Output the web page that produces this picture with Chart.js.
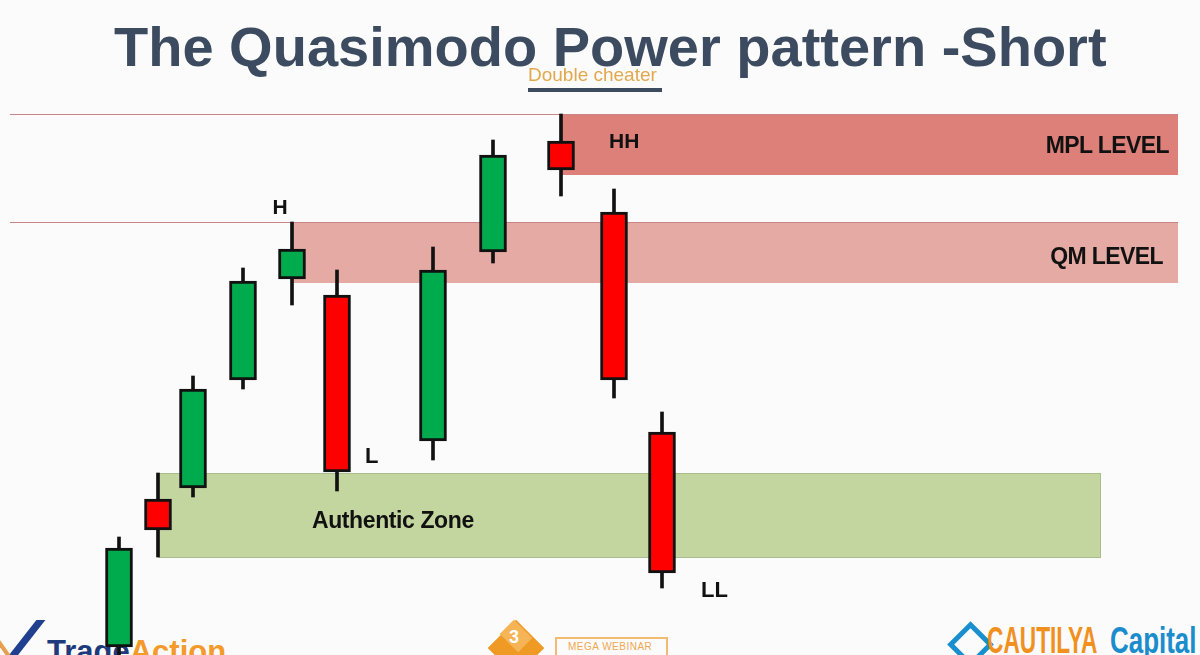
<!DOCTYPE html>
<html><head><meta charset="utf-8">
<script src="https://cdn.jsdelivr.net/npm/chart.js@4.4.0/dist/chart.umd.min.js"></script>
<style>
html,body{margin:0;padding:0;background:#fbfbfb;}
#wrap{position:relative;width:1200px;height:655px;overflow:hidden;font-family:"Liberation Sans",Arial,Helvetica,sans-serif;background:#fbfbfb;}
#c{position:absolute;left:0;top:0;z-index:2;}
.t{position:absolute;white-space:nowrap;line-height:1;}
.logo{z-index:1;}
.ann{z-index:3;font-weight:bold;color:#111;}
</style></head><body>
<div id="wrap">
  <div class="t" style="left:114px;top:19px;font-size:56px;font-weight:bold;color:#3d4b60;z-index:3;">The Quasimodo Power pattern -Short</div>
  <div class="t" style="left:528px;top:64.5px;font-size:19px;color:#e2a84c;z-index:3;">Double cheater</div>
  <div style="position:absolute;left:528px;top:88px;width:134px;height:4px;background:#3d4b60;z-index:3;"></div>

  <!-- bottom-left logo -->
  <div class="logo" style="position:absolute;left:20px;top:620px;width:9px;height:42px;background:#213f8f;transform:skewX(-38deg);"></div>
  <div class="logo" style="position:absolute;left:2px;top:640px;width:5px;height:20px;background:#e8a050;transform:skewX(35deg);"></div>
  <div class="t logo" style="left:47px;top:635.8px;font-size:31px;font-weight:bold;"><span style="color:#1d3a7c">Trade</span><span style="color:#f39a2b">Action</span></div>

  <!-- middle logo -->
  <div class="logo" style="position:absolute;left:496px;top:628px;width:40px;height:40px;background:#ef9a25;transform:rotate(45deg);"></div>
  <div class="logo" style="position:absolute;left:503px;top:626px;width:26px;height:20px;background:#f5b455;transform:rotate(45deg) skew(0deg);"></div>
  <div class="t logo" style="left:509px;top:628px;font-size:18px;font-weight:bold;color:#fff;">3</div>
  <div class="logo" style="position:absolute;left:555px;top:637px;width:113px;height:22px;border:2px solid #f2bb70;box-sizing:border-box;"></div>
  <div class="t logo" style="left:568px;top:642px;font-size:10px;color:#f0a850;letter-spacing:0.5px;">MEGA WEBINAR</div>

  <!-- bottom-right logo -->
  <div class="logo" style="position:absolute;left:954px;top:628px;width:23px;height:23px;border:5px solid #1a8fd0;transform:rotate(45deg);"></div>
  <div class="t logo" style="left:987px;top:623px;font-size:36px;font-weight:bold;color:#f0901e;transform:scaleX(0.63);transform-origin:left;">CAUTILYA</div>
  <div class="t logo" style="left:1110px;top:623px;font-size:36px;font-weight:bold;color:#1b8ccc;transform:scaleX(0.72);transform-origin:left;">Capital</div>

  <canvas id="c" width="1200" height="655"></canvas>
</div>
<script>
// ---------- data ----------
const times  = [11.9, 15.8, 19.3, 24.3, 29.2, 33.7, 43.3, 49.3, 56.1, 61.4, 66.2];
const opens  = [0.8, 15.6, 16.7, 27.5, 37.6, 36.0, 21.4, 40.3, 51.4, 44.3, 22.3];
const highs  = [11.8, 18.2, 27.9, 38.7, 43.3, 38.5, 40.8, 51.5, 54.1, 46.6, 24.3];
const lows   = [-1.0, 9.8, 15.8, 26.6, 35.0, 16.4, 19.5, 39.2, 45.9, 25.7, 6.7];
const closes = [10.7, 12.5, 26.6, 37.4, 40.6, 18.3, 38.5, 50.0, 48.5, 27.5, 8.2];

const zoneNames  = ['MPL LEVEL', 'QM LEVEL', 'Authentic Zone'];
const zoneStart  = [56.1, 29.2, 15.8];
const zoneEnd    = [117.8, 117.8, 110.0];
const zoneTop    = [54.1, 43.3, 18.2];
const zoneBottom = [48.0, 37.2, 9.8];
const levelLineFrom = [1.0, 1.0, null];

const annText = ['H', 'L', 'HH', 'LL', 'MPL LEVEL', 'QM LEVEL', 'Authentic Zone'];
const annTime = [28.0, 36.5, 60.9, 70.1, 116.9, 116.3, 31.2];
const annPrice = [44.1, 19.1, 50.7, 5.7, 50.2, 39.1, 12.7];

// ---------- styles ----------
const UP = '#00ab4e', DOWN = '#ff0000', EDGE = '#111111';
const zoneFill = ['#dc8079', '#e6aaa4', '#c4d6a0'];
const zoneEdge = ['#c98585', '#c98585', '#a9bd8c'];
const annAlign = ['center', 'left', 'left', 'left', 'right', 'right', 'left'];
const annSize = [21, 22, 21, 22, 23, 23, 23];
const annSpacing = [0, 0, 0, 0, -0.6, -0.6, -0.4];

const bodies = times.map((t, i) => ({x: t, y: [opens[i], closes[i]]}));
const wicks = times.map((t, i) => ({x: t, y: [lows[i], highs[i]]}));
const bodyColors = times.map((t, i) => closes[i] >= opens[i] ? UP : DOWN);

const zonePlugin = {
  id: 'zones',
  beforeDatasetsDraw(chart) {
    const {ctx, scales: {x, y}} = chart;
    ctx.save();
    zoneNames.forEach((n, i) => {
      const x0 = x.getPixelForValue(zoneStart[i]);
      const x1 = x.getPixelForValue(zoneEnd[i]);
      const y0 = y.getPixelForValue(zoneTop[i]);
      const y1 = y.getPixelForValue(zoneBottom[i]);
      ctx.fillStyle = zoneFill[i];
      ctx.fillRect(x0, y0, x1 - x0, y1 - y0);
      ctx.strokeStyle = zoneEdge[i];
      ctx.lineWidth = 1;
      if (i === 2) {
        ctx.strokeRect(Math.round(x0) + 0.5, Math.round(y0) + 0.5, x1 - x0, y1 - y0);
      }
      if (levelLineFrom[i] !== null) {
        const xl = x.getPixelForValue(levelLineFrom[i]);
        ctx.beginPath();
        ctx.moveTo(xl, Math.round(y0) + 0.5);
        ctx.lineTo(x1, Math.round(y0) + 0.5);
        ctx.stroke();
      }
    });
    ctx.restore();
  }
};

const chart = new Chart(document.getElementById('c'), {
  type: 'bar',
  data: {
    datasets: [
      {label: 'Body', data: bodies, backgroundColor: bodyColors, borderColor: EDGE,
       borderWidth: 3, borderSkipped: false, barThickness: 27, grouped: false, order: 0},
      {label: 'Wick', data: wicks, backgroundColor: EDGE, borderWidth: 0,
       barThickness: 3, grouped: false, order: 1}
    ]
  },
  options: {
    responsive: false,
    animation: false,
    devicePixelRatio: 1,
    layout: {padding: 0},
    plugins: {legend: {display: false}, tooltip: {enabled: false}, title: {display: false}},
    scales: {
      x: {type: 'linear', min: 0, max: 120, offset: false, display: false},
      y: {type: 'linear', min: 0, max: 65.5, display: false}
    }
  },
  plugins: [zonePlugin]
});

// ---------- annotation labels placed through the scales ----------
const wrap = document.getElementById('wrap');
annText.forEach((txt, i) => {
  const el = document.createElement('div');
  el.className = 't ann';
  el.textContent = txt;
  const px = chart.scales.x.getPixelForValue(annTime[i]);
  const base = chart.scales.y.getPixelForValue(annPrice[i]);
  const s = annSize[i];
  el.style.fontSize = s + 'px';
  el.style.letterSpacing = annSpacing[i] + 'px';
  el.style.top = (base - 0.8465 * s) + 'px';
  el.style.left = px + 'px';
  if (annAlign[i] === 'right') el.style.transform = 'translateX(-100%)';
  else if (annAlign[i] === 'center') el.style.transform = 'translateX(-50%)';
  wrap.appendChild(el);
});
</script>
</body></html>
